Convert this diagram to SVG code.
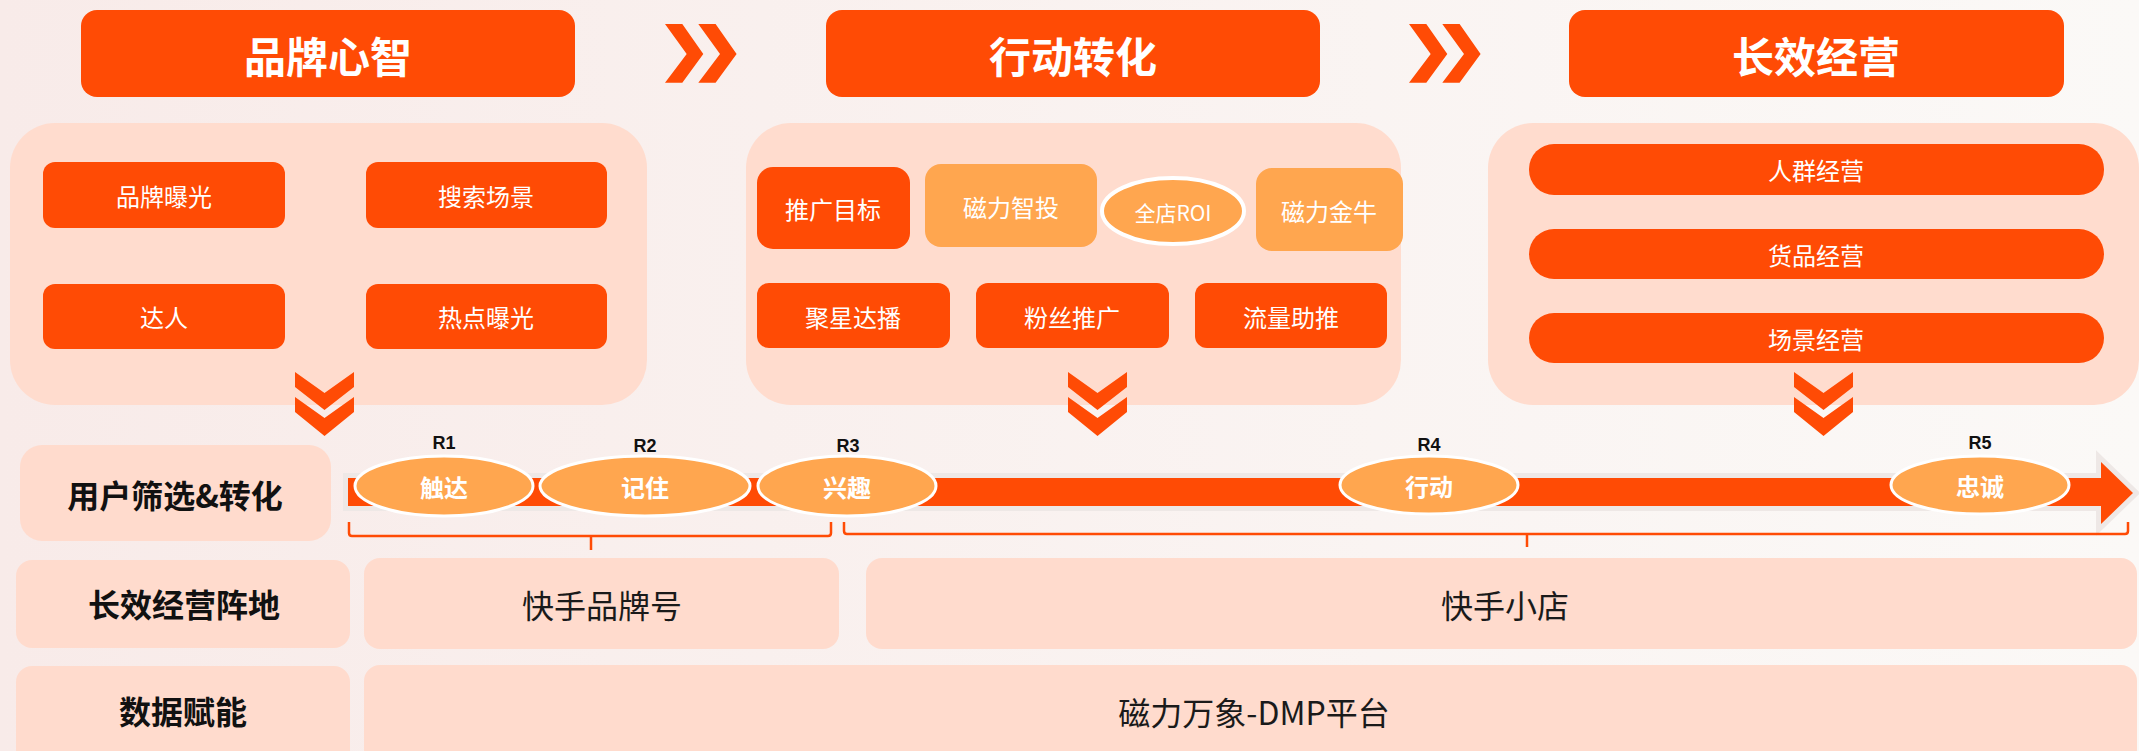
<svg xmlns="http://www.w3.org/2000/svg" width="2139" height="751" viewBox="0 0 2139 751">
<defs>
<linearGradient id="bg" x1="0" y1="0" x2="1" y2="0">
<stop offset="0" stop-color="#F8EBE9"/>
<stop offset="1" stop-color="#FBF9F7"/>
</linearGradient>
<g id="chevDouble">
<polygon points="0,0 29.5,21 59,0 59,15 29.5,38 0,15"/>
<polygon points="0,25 29.5,46 59,25 59,40 29.5,64 0,40"/>
</g>
<g id="chevRight">
<polygon points="0,0 17.3,0 38.3,30 17.3,58.7 0,58.7 21.7,30"/>
<polygon points="33.3,0 50.6,0 71.6,30 50.6,58.7 33.3,58.7 55,30"/>
</g>
</defs>
<style>
.dark{fill:#FF4B05}
.light{fill:#FFA64F}
.panel{fill:#FFDCCE}
.lab{fill:#FFDBCD}
.t{font-family:"Noto Sans CJK SC","Noto Sans",sans-serif;text-anchor:middle;dominant-baseline:central}
.title{font-size:42px;font-weight:bold;fill:#FFFFFF}
.box{font-size:24px;fill:#FFFFFF}
.row{font-size:32px;font-weight:bold;fill:#111111}
.big{font-size:32px;fill:#1A1A1A}
.ell{font-size:24px;font-weight:bold;fill:#FFFFFF}
.r{font-family:"Liberation Sans Narrow","Liberation Sans",Arial,sans-serif;font-size:18px;font-weight:bold;fill:#111111;text-anchor:middle;dominant-baseline:central}
.br{fill:none;stroke:#FF4B05;stroke-width:2.5}
.stage{fill:#FFA64F;stroke:#FFFFFF;stroke-width:3}
</style>
<rect x="0" y="0" width="2139" height="751" fill="url(#bg)"/>

<g id="title-brand">
<rect class="dark" x="81" y="10" width="494" height="87" rx="16"/>
<text class="t title" x="328" y="54">品牌心智</text>
</g>
<g id="title-action">
<rect class="dark" x="826" y="10" width="494" height="87" rx="16"/>
<text class="t title" x="1073" y="54">行动转化</text>
</g>
<g id="title-long">
<rect class="dark" x="1569" y="10" width="495" height="87" rx="16"/>
<text class="t title" x="1816" y="54">长效经营</text>
</g>

<g id="panel-brand">
<rect class="panel" x="10" y="123" width="637" height="282" rx="45"/>
<g id="n-pinpai"><rect class="dark" x="43" y="162" width="242" height="66" rx="12"/><text class="t box" x="164" y="195">品牌曝光</text></g>
<g id="n-sousuo"><rect class="dark" x="366" y="162" width="241" height="66" rx="12"/><text class="t box" x="486" y="195">搜索场景</text></g>
<g id="n-daren"><rect class="dark" x="43" y="284" width="242" height="65" rx="12"/><text class="t box" x="164" y="316">达人</text></g>
<g id="n-redian"><rect class="dark" x="366" y="284" width="241" height="65" rx="12"/><text class="t box" x="486" y="316">热点曝光</text></g>
</g>

<g id="panel-action">
<rect class="panel" x="746" y="123" width="655" height="282" rx="45"/>
<g id="n-tuiguang"><rect class="dark" x="757" y="167" width="153" height="82" rx="16"/><text class="t box" x="833" y="208">推广目标</text></g>
<g id="n-zhitou"><rect class="light" x="925" y="164" width="172" height="83" rx="16"/><text class="t box" x="1011" y="206">磁力智投</text></g>
<g id="n-roi"><ellipse cx="1173" cy="211" rx="71" ry="33" fill="#FFA64F" stroke="#FFFFFF" stroke-width="4"/><text class="t box" x="1173" y="212" style="font-size:21px">全店ROI</text></g>
<g id="n-jinniu"><rect class="light" x="1256" y="168" width="147" height="83" rx="16"/><text class="t box" x="1329" y="210">磁力金牛</text></g>
<g id="n-juxing"><rect class="dark" x="757" y="283" width="193" height="65" rx="12"/><text class="t box" x="853" y="316">聚星达播</text></g>
<g id="n-fensi"><rect class="dark" x="976" y="283" width="193" height="65" rx="12"/><text class="t box" x="1072" y="316">粉丝推广</text></g>
<g id="n-liuliang"><rect class="dark" x="1195" y="283" width="192" height="65" rx="12"/><text class="t box" x="1291" y="316">流量助推</text></g>
</g>

<g id="panel-long">
<rect class="panel" x="1488" y="123" width="651" height="282" rx="45"/>
<g id="n-renqun"><rect class="dark" x="1529" y="144" width="575" height="51" rx="25"/><text class="t box" x="1816" y="169">人群经营</text></g>
<g id="n-huopin"><rect class="dark" x="1529" y="229" width="575" height="50" rx="25"/><text class="t box" x="1816" y="254">货品经营</text></g>
<g id="n-changjing"><rect class="dark" x="1529" y="313" width="575" height="50" rx="25"/><text class="t box" x="1816" y="338">场景经营</text></g>
</g>

<g id="row-user">
<rect class="lab" x="20" y="445" width="311" height="96" rx="22"/>
<text class="t row" x="175" y="494">用户筛选&amp;转化</text>
</g>
<g id="row-zhendi">
<rect class="lab" x="16" y="560" width="334" height="88" rx="16"/>
<text class="t row" x="184" y="603">长效经营阵地</text>
</g>
<g id="row-data">
<rect class="lab" x="16" y="666" width="334" height="100" rx="16"/>
<text class="t row" x="183" y="710">数据赋能</text>
</g>
<g id="n-pinpaihao">
<rect class="lab" x="364" y="558" width="475" height="91" rx="16"/>
<text class="t big" x="602" y="604">快手品牌号</text>
</g>
<g id="n-xiaodian">
<rect class="lab" x="866" y="558" width="1271" height="91" rx="16"/>
<text class="t big" x="1505" y="604">快手小店</text>
</g>
<g id="n-dmp">
<rect class="lab" x="364" y="665" width="1773" height="100" rx="16"/>
<text class="t big" x="1254" y="711">磁力万象-DMP平台</text>
</g>

<g id="connectors">
<g class="dark">
<use href="#chevRight" x="665" y="24"/>
<use href="#chevRight" x="1409" y="24"/>
<use href="#chevDouble" x="295" y="372"/>
<use href="#chevDouble" x="1068" y="372"/>
<use href="#chevDouble" x="1794" y="372"/>
</g>
<polygon points="348,478 2101,478 2101,462 2133,493 2101,524 2101,506 348,506" fill="none" stroke="#EEE8E6" stroke-width="10" stroke-linejoin="miter"/>
<polygon class="dark" points="348,478 2101,478 2101,462 2133,493 2101,524 2101,506 348,506"/>
<path class="br" d="M349,522 L349,533 Q349,536 352,536 L828,536 Q831,536 831,533 L831,522 M591,536 L591,550"/>
<path class="br" d="M844,522 L844,531 Q844,534 847,534 L2125,534 Q2128,534 2128,531 L2128,522 M1527,534 L1527,547"/>
</g>

<g id="stage-r1"><ellipse class="stage" cx="444" cy="486" rx="89" ry="30"/><text class="t ell" x="444" y="486">触达</text><text class="r" x="444" y="443">R1</text></g>
<g id="stage-r2"><ellipse class="stage" cx="645" cy="486" rx="105" ry="30"/><text class="t ell" x="645" y="486">记住</text><text class="r" x="645" y="446">R2</text></g>
<g id="stage-r3"><ellipse class="stage" cx="847" cy="486" rx="89" ry="30"/><text class="t ell" x="847" y="486">兴趣</text><text class="r" x="848" y="446">R3</text></g>
<g id="stage-r4"><ellipse class="stage" cx="1429" cy="485" rx="89" ry="29"/><text class="t ell" x="1429" y="485">行动</text><text class="r" x="1429" y="445">R4</text></g>
<g id="stage-r5"><ellipse class="stage" cx="1980" cy="485" rx="89" ry="29"/><text class="t ell" x="1980" y="485">忠诚</text><text class="r" x="1980" y="443">R5</text></g>
</svg>
